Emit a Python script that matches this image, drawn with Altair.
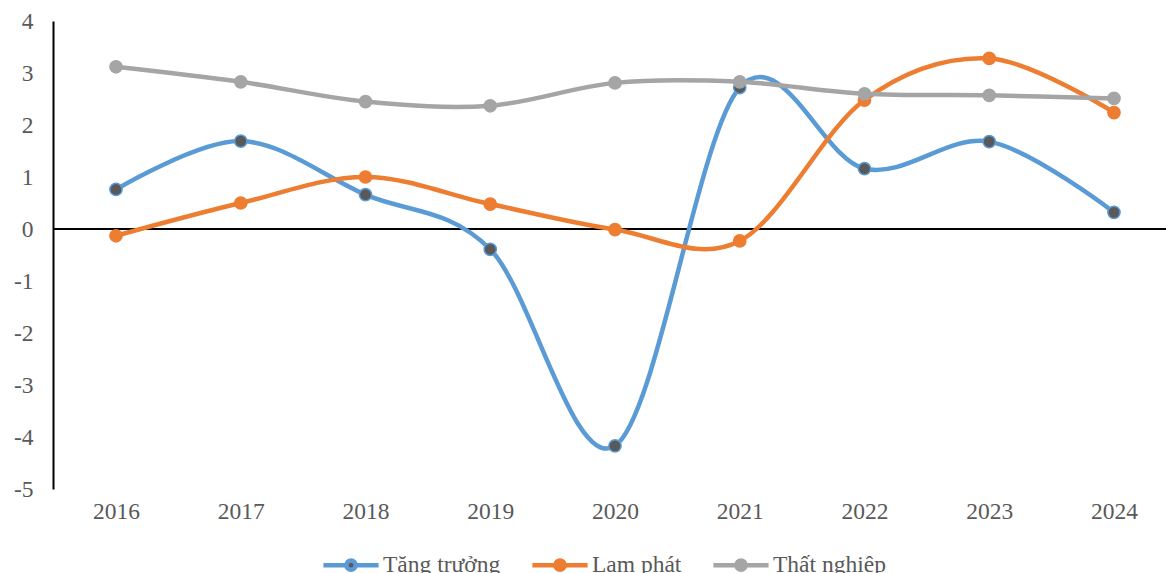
import altair as alt
import pandas as pd

years = [2016, 2017, 2018, 2019, 2020, 2021, 2022, 2023, 2024]
series_names = ["Tăng trưởng", "Lạm phát", "Thất nghiệp"]
tang_truong = [0.76, 1.69, 0.66, -0.39, -4.17, 2.72, 1.16, 1.68, 0.32]
lam_phat = [-0.13, 0.50, 1.00, 0.48, -0.01, -0.23, 2.48, 3.28, 2.24]
that_nghiep = [3.12, 2.83, 2.45, 2.37, 2.81, 2.83, 2.60, 2.57, 2.51]
line_colors = ["#5B9BD5", "#ED7D31", "#A5A5A5"]
marker_fills = ["#595959", "#ED7D31", "#A5A5A5"]

rows = []
for name, vals in zip(series_names, [tang_truong, lam_phat, that_nghiep]):
    for yr, v in zip(years, vals):
        rows.append({"year": yr, "value": v, "series": name})
df = pd.DataFrame(rows)

FONT = "Liberation Serif"
LABEL_COLOR = "#595959"
FS = 23.5

x_enc = alt.X(
    "year:Q",
    scale=alt.Scale(domain=[2015.495, 2024.417], nice=False, zero=False),
    axis=alt.Axis(values=years, format="d", title=None, domain=False, ticks=False,
                  grid=False, labelFont=FONT, labelFontSize=FS, labelColor=LABEL_COLOR,
                  labelPadding=10),
)
y_enc = alt.Y(
    "value:Q",
    scale=alt.Scale(domain=[-5, 4], nice=False),
    axis=alt.Axis(values=list(range(-5, 5)), title=None, domain=True, domainColor="black",
                  domainWidth=2, ticks=False, grid=False, labelFont=FONT, labelFontSize=FS,
                  labelColor=LABEL_COLOR, labelPadding=20,
                  labelExpr="datum.value < 0 ? '-' + abs(datum.value) : '' + datum.value"),
)

stroke_scale = alt.Scale(domain=series_names, range=line_colors)
fill_scale = alt.Scale(domain=series_names, range=marker_fills)

legend_path = ("M-2.4,0H-0.4M0.4,0H2.4"
               "M-0.4,0A0.4,0.4 0 1,1 0.4,0A0.4,0.4 0 1,1 -0.4,0Z")
legend = alt.Legend(
    title=None, orient="none", direction="horizontal", legendX=284, legendY=530,
    symbolType=legend_path, symbolSize=529, symbolStrokeWidth=4.5,
    labelFont=FONT, labelFontSize=FS, labelColor=LABEL_COLOR, labelOffset=18,
    columnPadding=22, padding=0,
)

base = alt.Chart(df)

zero_rule = alt.Chart(pd.DataFrame({"z": [0]})).mark_rule(color="black", strokeWidth=2).encode(
    y=alt.datum(0),
)

lines = base.mark_line(interpolate="cardinal", tension=0, strokeWidth=4.5).encode(
    x=x_enc, y=y_enc,
    stroke=alt.Stroke("series:N", scale=stroke_scale, legend=legend, sort=series_names),
    detail="series:N",
)

points = base.mark_point(filled=True, size=150, opacity=1, strokeWidth=1.5).encode(
    x=x_enc, y=y_enc,
    stroke=alt.Stroke("series:N", scale=stroke_scale, legend=legend, sort=series_names),
    fill=alt.Fill("series:N", scale=fill_scale, legend=legend, sort=series_names),
)

chart = alt.layer(zero_rule, lines, points).properties(
    width=1113, height=468,
    background="white",
    autosize=alt.AutoSizeParams(type="none"),
    padding={"left": 53, "top": 21, "right": 0, "bottom": 84},
).configure_view(stroke="transparent", strokeWidth=0).configure_axis(grid=False)

chart.save("out.html", embed_options={"renderer": "svg", "actions": False})
